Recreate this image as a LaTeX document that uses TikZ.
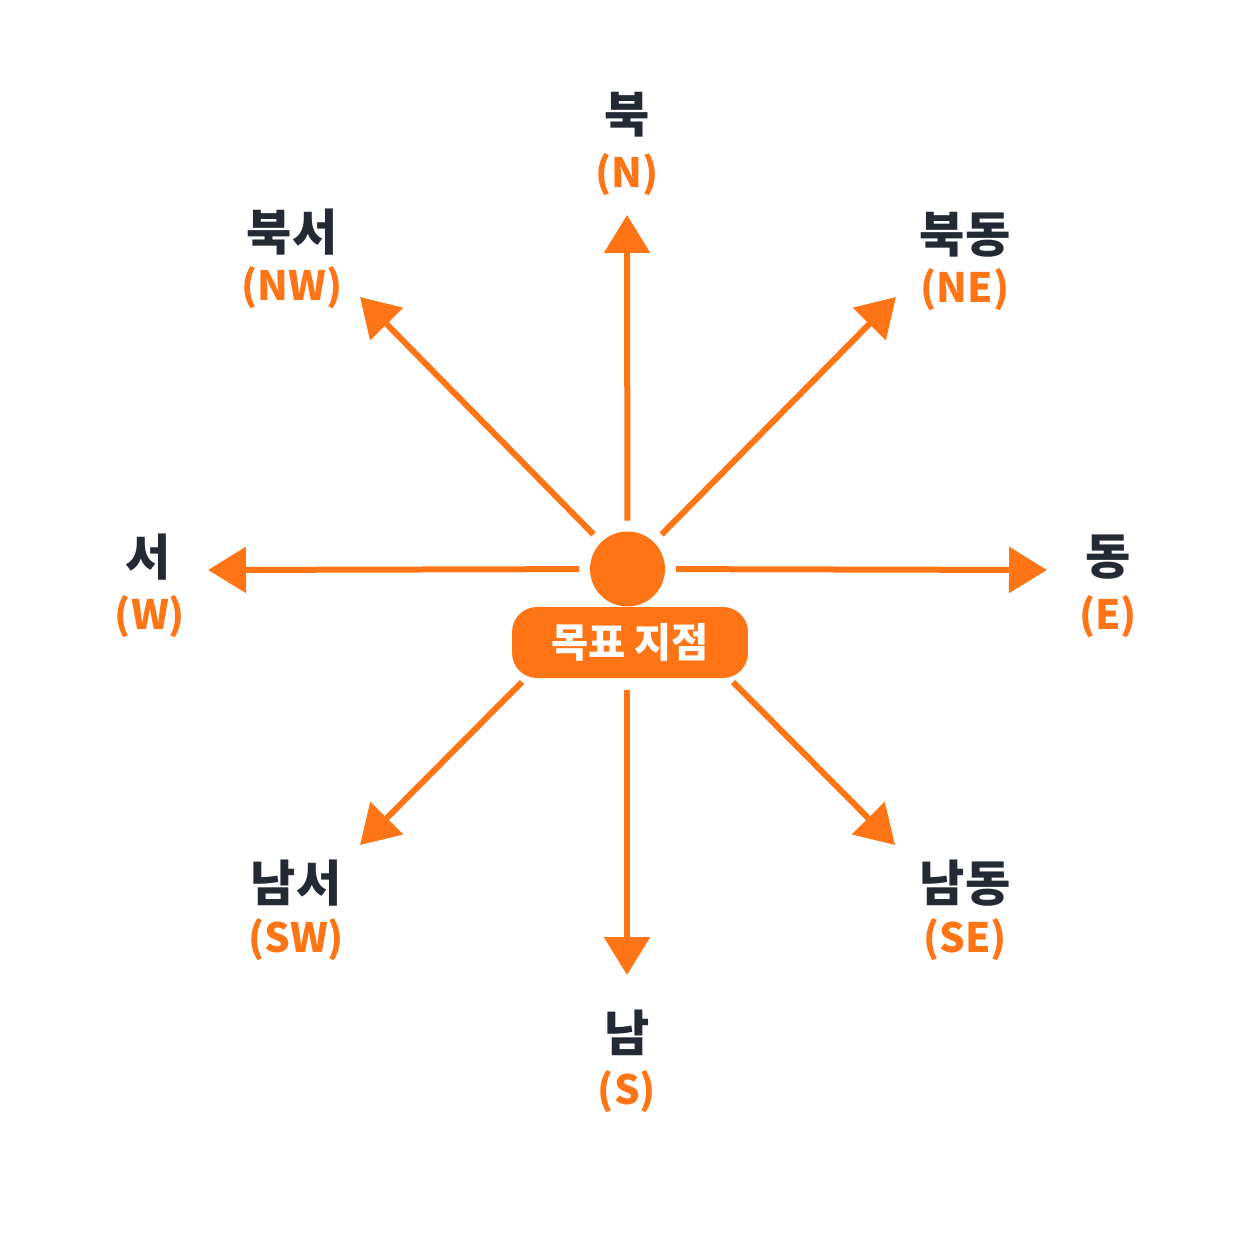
\documentclass[tikz,border=0pt]{standalone}
\usepackage{fontspec}
\setmainfont{Noto Sans CJK KR}
\usetikzlibrary{arrows.meta}
\definecolor{org}{HTML}{FF7414}
\definecolor{ink}{HTML}{242A33}
\tikzset{
 arr/.style={draw=org, line width=0.12cm, -{Triangle[length=0.76cm,width=0.9cm]}},
 kor/.style={text=ink, inner sep=0pt, font=\fontsize{28}{31}\selectfont\bfseries},
 lat/.style={text=org, inner sep=0pt, font=\fontsize{23}{26}\selectfont\bfseries},
}
\begin{document}
\begin{tikzpicture}[x=0.02cm,y=-0.02cm]
\useasboundingbox (0,0) rectangle (1254,1254);
\node (tgt) [circle, fill=org, minimum size=1.5cm, inner sep=0pt, outer sep=0.22cm] at (627.5,569) {};
\node (lbl) [fill=org, rounded corners=0.5cm, minimum width=4.72cm, minimum height=1.42cm, inner sep=0pt, outer sep=0.24cm, text=white, font=\fontsize{23}{26}\selectfont\bfseries] at (630,642.5) {목표 지점};
\coordinate (tN) at (627,215);
\coordinate (tS) at (627,975);
\coordinate (tE) at (1047,570);
\coordinate (tW) at (208,570);
\coordinate (tNE) at (896,297);
\coordinate (tNW) at (360,297);
\coordinate (tSE) at (895,845);
\coordinate (tSW) at (360,845);
\coordinate (sSE) at (733,682);
\coordinate (sSW) at (522,682);
\draw [arr] (tgt) -- (tN);
\draw [arr] (tgt) -- (tE);
\draw [arr] (tgt) -- (tW);
\draw [arr] (tgt) -- (tNE);
\draw [arr] (tgt) -- (tNW);
\draw [arr] (lbl.south -| tS) -- (tS);
\draw [arr] (sSE) -- (tSE);
\draw [arr] (sSW) -- (tSW);
\node (kN) [kor] at (627,115) {북};
\node (lN) [lat] at (627,175) {(N)};
\node (kNW) [kor] at (292,232) {북서};
\node (lNW) [lat] at (292,288) {(NW)};
\node (kNE) [kor] at (965,235) {북동};
\node (lNE) [lat] at (965,290) {(NE)};
\node (kW) [kor] at (148,557) {서};
\node (lW) [lat] at (150,617) {(W)};
\node (kE) [kor] at (1108,557) {동};
\node (lE) [lat] at (1108,617) {(E)};
\node (kSW) [kor] at (296,883) {남서};
\node (lSW) [lat] at (296,940) {(SW)};
\node (kSE) [kor] at (965,883) {남동};
\node (lSE) [lat] at (965,940) {(SE)};
\node (kS) [kor] at (627,1033) {남};
\node (lS) [lat] at (627,1092) {(S)};
\end{tikzpicture}
\end{document}
